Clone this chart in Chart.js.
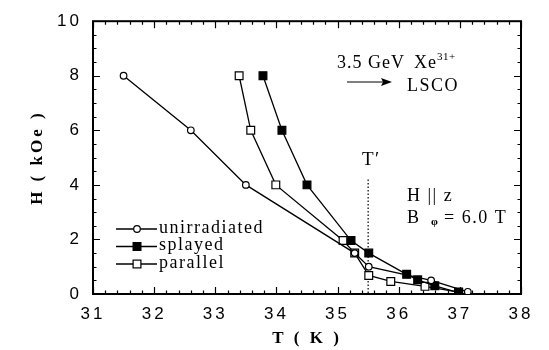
<!DOCTYPE html>
<html lang="en">
<head>
<meta charset="UTF-8">
<title>H vs T</title>
<script src="https://cdn.jsdelivr.net/npm/chart.js"></script>
<style>
  html, body { margin: 0; padding: 0; background: #fff; }
  #wrap { width: 549px; height: 350px; }
</style>
</head>
<body>
<div id="wrap"><canvas id="hChart" width="549" height="350"></canvas></div>
<script>
// values: T in K, H in kOe
const unirrT = [31.5, 32.6, 33.5, 35.28, 35.51, 36.53, 37.13];
const unirrH = [8, 6, 4, 1.5, 1.0, 0.5, 0.08];
const splayT = [33.78, 34.09, 34.5, 35.22, 35.51, 36.13, 36.31, 36.59, 36.98];
const splayH = [8, 6, 4, 1.96, 1.5, 0.72, 0.52, 0.3, 0.05];
const paraT = [33.39, 33.58, 33.99, 35.09, 35.28, 35.51, 35.87, 36.43, 36.98];
const paraH = [8, 6, 4, 1.96, 1.5, 0.68, 0.46, 0.28, 0.07];
const seriesNames = ['unirradiated', 'splayed', 'parallel'];

const xTicks = [31, 32, 33, 34, 35, 36, 37, 38];
const yTicks = [0, 2, 4, 6, 8, 10];
const tPrime = 35.5;      // T' marker
const tPrimeTop = 4.2;    // where the dotted line starts (kOe)

const serif = '"Liberation Serif", "DejaVu Serif", serif';
const sans = '"Liberation Sans", Arial, sans-serif';

function pts(ts, hs) {
    return ts.map((t, i) => ({ x: t, y: hs[i] }));
}

function drawMarker(ctx, style, x, y) {
    ctx.save();
    ctx.lineWidth = 1.2;
    ctx.strokeStyle = '#000';
    if (style === 'circle') {
        ctx.beginPath();
        ctx.arc(x, y, 3.3, 0, Math.PI * 2);
        ctx.fillStyle = '#fff';
        ctx.fill();
        ctx.stroke();
    } else {
        ctx.fillStyle = style === 'filled' ? '#000' : '#fff';
        ctx.fillRect(x - 3.9, y - 3.9, 7.8, 7.8);
        ctx.strokeRect(x - 3.9, y - 3.9, 7.8, 7.8);
    }
    ctx.restore();
}

const framePlugin = {
    id: 'frame',
    beforeDraw(chart) {
        // the scanned axis lettering is widely spaced
        chart.ctx.letterSpacing = '3px';
    },
    beforeDatasetsDraw(chart) {
        const ctx = chart.ctx;
        ctx.letterSpacing = '0px';
        const xs = chart.scales.x, ys = chart.scales.y;
        const { left, right, top, bottom } = chart.chartArea;

        // dotted T' line
        ctx.save();
        ctx.strokeStyle = '#000';
        ctx.lineWidth = 1.2;
        ctx.setLineDash([1.5, 2]);
        const xp = xs.getPixelForValue(tPrime);
        ctx.beginPath();
        ctx.moveTo(xp, ys.getPixelForValue(tPrimeTop));
        ctx.lineTo(xp, bottom);
        ctx.stroke();
        ctx.restore();

        // frame with inward ticks on all four sides
        ctx.save();
        ctx.strokeStyle = '#000';
        ctx.lineWidth = 2;
        ctx.strokeRect(left, top, right - left, bottom - top);
        ctx.lineWidth = 1.2;
        ctx.beginPath();
        for (let v = 31; v <= 38.001; v += 0.2) {
            const p = Math.round(xs.getPixelForValue(v)) + 0.5;
            const major = Math.abs(v - Math.round(v)) < 0.01;
            const len = major ? 7 : 3.5;
            ctx.moveTo(p, bottom); ctx.lineTo(p, bottom - len);
            ctx.moveTo(p, top); ctx.lineTo(p, top + len);
        }
        for (let v = 0; v <= 10.001; v += 0.5) {
            const p = Math.round(ys.getPixelForValue(v)) + 0.5;
            const major = Math.abs(v / 2 - Math.round(v / 2)) < 0.01;
            const len = major ? 7 : 3.5;
            ctx.moveTo(left, p); ctx.lineTo(left + len, p);
            ctx.moveTo(right, p); ctx.lineTo(right - len, p);
        }
        ctx.stroke();
        ctx.restore();
    },
    afterDraw(chart) {
        const ctx = chart.ctx;
        const { left, bottom } = chart.chartArea;
        ctx.save();
        ctx.fillStyle = '#000';
        ctx.strokeStyle = '#000';
        ctx.letterSpacing = '1.5px';
        ctx.textBaseline = 'middle';
        ctx.textAlign = 'left';

        // legend
        const styles = ['circle', 'filled', 'open'];
        ctx.font = '18px ' + serif;
        seriesNames.forEach((name, i) => {
            const y = bottom - 65 + i * 17.5;
            ctx.lineWidth = 1.3;
            ctx.beginPath();
            ctx.moveTo(left + 23, y);
            ctx.lineTo(left + 64, y);
            ctx.stroke();
            drawMarker(ctx, styles[i], left + 44, y);
            ctx.fillText(name, left + 66, y - 1);
        });

        // beam annotation
        ctx.letterSpacing = '1px';
        ctx.font = '18px ' + serif;
        ctx.fillText('3.5 GeV', 337, 63);
        ctx.fillText('Xe', 414, 63);
        const xeW = ctx.measureText('Xe').width;
        ctx.font = '11px ' + serif;
        ctx.letterSpacing = '0.5px';
        ctx.fillText('31+', 414 + xeW, 57);
        ctx.letterSpacing = '1.5px';
        ctx.font = '18px ' + serif;
        ctx.fillText('LSCO', 407, 86);
        ctx.lineWidth = 1.2;
        ctx.beginPath();
        ctx.moveTo(347, 82);
        ctx.lineTo(384, 82);
        ctx.stroke();
        ctx.beginPath();
        ctx.moveTo(392, 82);
        ctx.lineTo(381, 78);
        ctx.lineTo(383, 82);
        ctx.lineTo(381, 86);
        ctx.closePath();
        ctx.fill();

        // T'
        ctx.font = '19px ' + serif;
        ctx.fillText('T\u2032', 362, 160);

        // field geometry
        ctx.font = '18px ' + serif;
        ctx.fillText('H || z', 407, 196);
        ctx.fillText('B', 407, 218);
        ctx.font = 'bold 11px ' + serif;
        ctx.fillText('\u03c6', 431, 222);
        ctx.font = '18px ' + serif;
        ctx.fillText('= 6.0 T', 444, 218);
        ctx.restore();
    }
};

const lineStyle = { borderColor: '#000', borderWidth: 1.3, pointBorderColor: '#000', pointBorderWidth: 1.2, tension: 0, showLine: true };

new Chart(document.getElementById('hChart').getContext('2d'), {
    type: 'scatter',
    data: {
        datasets: [
            Object.assign({ label: seriesNames[0], data: pts(unirrT, unirrH), pointStyle: 'circle', pointRadius: 3.3, pointBackgroundColor: '#fff' }, lineStyle),
            Object.assign({ label: seriesNames[1], data: pts(splayT, splayH), pointStyle: 'rect', pointRadius: 5.5, pointBackgroundColor: '#000' }, lineStyle),
            Object.assign({ label: seriesNames[2], data: pts(paraT, paraH), pointStyle: 'rect', pointRadius: 5.5, pointBackgroundColor: '#fff' }, lineStyle)
        ]
    },
    options: {
        responsive: false,
        animation: false,
        layout: { padding: { top: 13, right: 28, left: 0, bottom: 0 } },
        plugins: { legend: { display: false }, tooltip: { enabled: false } },
        scales: {
            x: {
                type: 'linear', min: 31, max: 38,
                afterBuildTicks: s => { s.ticks = xTicks.map(v => ({ value: v })); },
                afterFit: s => { s.height = 56; },
                grid: { display: false, drawTicks: false },
                border: { display: false },
                ticks: { color: '#000', padding: 10, maxRotation: 0, font: { family: sans, size: 17 } },
                title: { display: true, text: 'T ( K )', color: '#000', padding: { top: 0, bottom: 1 }, font: { family: serif, size: 17, weight: 'bold' } }
            },
            y: {
                type: 'linear', min: 0, max: 10,
                afterBuildTicks: s => { s.ticks = yTicks.map(v => ({ value: v })); },
                afterFit: s => { s.width = 93; },
                grid: { display: false, drawTicks: false },
                border: { display: false },
                ticks: { color: '#000', padding: 11, font: { family: sans, size: 17 } },
                title: { display: true, text: 'H ( kOe )', color: '#000', padding: { top: 27, bottom: 0 }, font: { family: serif, size: 17, weight: 'bold' } }
            }
        }
    },
    plugins: [framePlugin]
});
</script>
</body>
</html>
